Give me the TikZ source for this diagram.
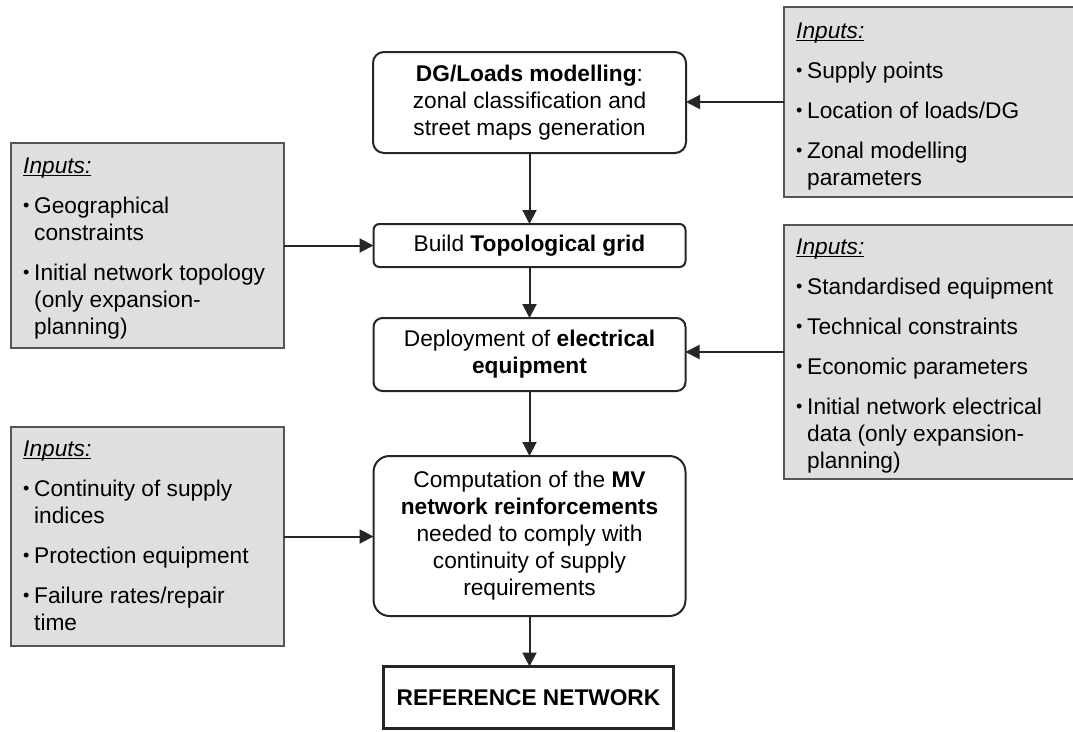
\documentclass[tikz,border=0pt]{standalone}
\usepackage{fontspec}
\setmainfont{Liberation Sans}
\usetikzlibrary{arrows.meta}
\definecolor{boxgray}{HTML}{DFDFDF}
\definecolor{bordergray}{HTML}{555555}
\definecolor{linedark}{HTML}{262626}
\newcommand\myul[1]{\setbox0\hbox{#1}\rlap{\rule[-2.6pt]{\wd0}{1.1pt}}\box0}
\newcommand\inp{\rule{0pt}{17pt}\myul{\itshape Inputs:}}
\newcommand\bl{\makebox[11pt][l]{\raisebox{1.8pt}{\fontsize{18}{18}\selectfont\textbullet}}}
\newcommand\ind{\hspace*{11pt}}
\begin{document}
\begin{tikzpicture}[x=1pt,y=-1pt,
  txt/.style={font=\fontsize{22.7}{27}\selectfont},
  gbox/.style={fill=boxgray, inner sep=0pt, outer sep=0pt, anchor=north west},
  gboxd/.style={gbox, draw=bordergray, line width=2pt},
  itext/.style={txt, inner sep=0pt, anchor=north west, align=left},
  cbox/.style={txt, draw=linedark, line width=2pt, align=center, inner sep=0pt, outer sep=0pt},
  refbox/.style={cbox, line width=3pt, font=\fontsize{22.7}{27}\selectfont\bfseries},
  arr/.style={draw=linedark, line width=2pt, -{Triangle[length=14pt,width=14pt]}}
]
\useasboundingbox (0,0) rectangle (1073,731);

% gray input boxes
\node[gbox, minimum width=289pt, minimum height=190pt] (R1) at (784,7) {};
\draw[bordergray, line width=2pt] (R1.north east) -- (R1.north west) -- (R1.south west) -- (R1.south east);
\node[gboxd, minimum width=273pt, minimum height=205pt] (L1) at (11,143) {};
\node[gbox, minimum width=289pt, minimum height=254pt] (R2) at (784,225) {};
\draw[bordergray, line width=2pt] (R2.north east) -- (R2.north west) -- (R2.south west) -- (R2.south east);
\node[gboxd, minimum width=273pt, minimum height=219pt] (L2) at (11,427) {};

\node[itext] (R1t) at (796,21) {\inp\\[13pt]
\bl Supply points\\[13pt]
\bl Location of loads/DG\\[13pt]
\bl Zonal modelling\\
\ind parameters};
\node[itext] (L1t) at (23,156) {\inp\\[13pt]
\bl Geographical\\
\ind constraints\\[13pt]
\bl Initial network topology\\
\ind (only expansion-\\
\ind planning)};
\node[itext] (R2t) at (796,237) {\inp\\[13pt]
\bl Standardised equipment\\[13pt]
\bl Technical constraints\\[13pt]
\bl Economic parameters\\[13pt]
\bl Initial network electrical\\
\ind data (only expansion-\\
\ind planning)};
\node[itext] (L2t) at (23,439) {\inp\\[13pt]
\bl Continuity of supply\\
\ind indices\\[13pt]
\bl Protection equipment\\[13pt]
\bl Failure rates/repair\\
\ind time};

% central process boxes
\node[cbox, rounded corners=11pt, minimum width=313pt, minimum height=101pt] (dg) at (529.5,102.5)
  {\textbf{DG/Loads modelling}:\\ zonal classification and\\ street maps generation};
\node[cbox, rounded corners=6pt, minimum width=312pt, minimum height=43pt] (build) at (529.5,245.5)
  {Build \textbf{Topological grid}};
\node[cbox, rounded corners=9pt, minimum width=312pt, minimum height=73pt] (deploy) at (529.5,354.5)
  {Deployment of \textbf{electrical}\\ \textbf{equipment}};
\node[cbox, rounded corners=16pt, minimum width=312pt, minimum height=160pt] (comp) at (529.5,536)
  {Computation of the \textbf{MV}\\ \textbf{network reinforcements}\\ needed to comply with\\ continuity of supply\\ requirements};
\node[refbox, minimum width=290pt, minimum height=62pt] (ref) at (528.5,697.5) {REFERENCE NETWORK};

% connectors
\draw[arr] (R1.west) -- (R1.west -| dg.east);
\draw[arr] (dg.south) -- (build.north);
\draw[arr] (L1.east) -- (L1.east -| build.west);
\draw[arr] (build.south) -- (deploy.north);
\draw[arr] (R2.west) -- (R2.west -| deploy.east);
\draw[arr] (deploy.south) -- (comp.north);
\draw[arr] (L2.east) -- (L2.east -| comp.west);
\draw[arr] (comp.south) -- (comp.south |- ref.north);
\end{tikzpicture}
\end{document}
